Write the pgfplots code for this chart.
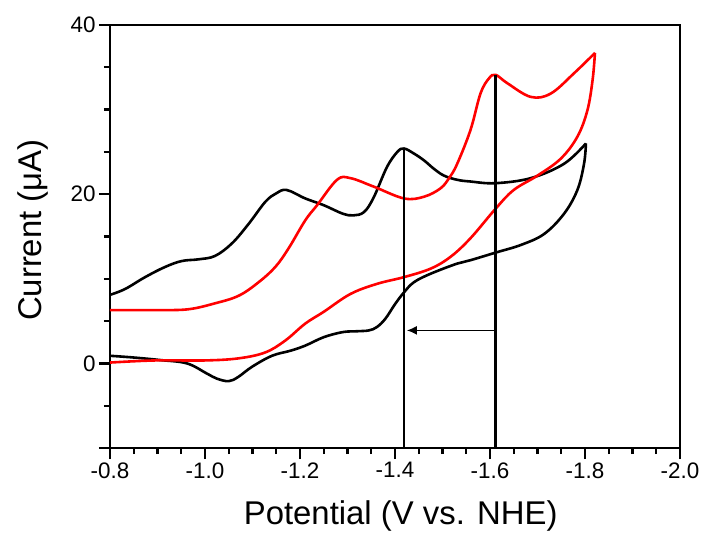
\documentclass[border=0pt]{standalone}
\usepackage{fontspec}
\setmainfont{Liberation Sans}
\usepackage{pgfplots}
\pgfplotsset{compat=1.18}
\usetikzlibrary{arrows.meta}
\begin{document}
\begin{tikzpicture}
\begin{axis}[
  scale only axis, width=570bp, height=423bp,
  x dir=reverse, xmin=-2.0, xmax=-0.8, ymin=-10, ymax=40,
  xtick={-0.8,-1.0,-1.2,-1.4,-1.6,-1.8,-2.0},
  xticklabels={-0.8,-1.0,-1.2,-1.4,-1.6,-1.8,-2.0},
  minor xtick={-0.85,-0.9,-0.95,-1.05,-1.1,-1.15,-1.25,-1.3,-1.35,-1.45,-1.5,-1.55,-1.65,-1.7,-1.75,-1.85,-1.9,-1.95},
  ytick={-10,0,20,40}, yticklabels={,0,20,40},
  minor ytick={-5,5,10,15,25,30,35},
  tick pos=left, tick align=outside,
  major tick length=11bp, minor tick length=6bp,
  every tick/.style={black, line width=2.4bp},
  axis line style={line width=2.8bp},
  ticklabel style={font=\fontsize{22.5}{26}\selectfont},
  xlabel={Potential (V vs. NHE)},
  ylabel={Current (μA)},
  label style={font=\fontsize{33}{38}\selectfont},
  xlabel style={at={(axis description cs:0.51,-0.182)}, anchor=base},
  ylabel style={at={(axis description cs:-0.121,0.515)}, anchor=base},
  clip=false,
]
% black CV forward
\addplot[black, line width=2.6bp, smooth, tension=0.6] coordinates {
(-0.800,8.1) (-0.832,8.8) (-0.874,10.2) (-0.916,11.4) (-0.951,12.1) (-0.986,12.3) (-1.021,12.7) (-1.057,14.2) (-1.092,16.5) (-1.127,19.1) (-1.150,20.1) (-1.172,20.5) (-1.211,19.5) (-1.250,18.7) (-1.290,17.7) (-1.313,17.5) (-1.335,17.9) (-1.355,19.6) (-1.383,23.2) (-1.405,25.0) (-1.419,25.4) (-1.440,24.8) (-1.461,24.0) (-1.482,23.0) (-1.503,22.2) (-1.531,21.7) (-1.559,21.5) (-1.611,21.3) (-1.686,21.9) (-1.756,23.6) (-1.802,26.0)};
% black CV reverse
\addplot[black, line width=2.6bp, smooth, tension=0.6] coordinates {
(-1.802,26.0) (-1.798,23.6) (-1.784,20.5) (-1.756,17.7) (-1.714,15.3) (-1.665,14.0) (-1.612,13.1) (-1.559,12.2) (-1.531,11.8) (-1.475,10.6) (-1.440,9.6) (-1.419,8.4) (-1.400,7.0) (-1.380,5.3) (-1.362,4.3) (-1.345,3.9) (-1.320,3.8) (-1.290,3.7) (-1.250,3.1) (-1.211,2.1) (-1.180,1.5) (-1.141,0.9) (-1.099,-0.4) (-1.070,-1.6) (-1.050,-2.1) (-1.025,-1.8) (-1.004,-1.2) (-0.962,0) (-0.905,0.4) (-0.849,0.7) (-0.800,0.9)};
% red CV forward
\addplot[red, line width=2.6bp, smooth, tension=0.6] coordinates {
(-0.800,6.3) (-0.900,6.3) (-0.965,6.4) (-1.021,7.1) (-1.071,8.0) (-1.113,9.6) (-1.148,11.4) (-1.176,13.6) (-1.211,16.9) (-1.236,18.7) (-1.278,21.7) (-1.306,21.9) (-1.355,20.9) (-1.419,19.5) (-1.461,19.7) (-1.496,20.7) (-1.515,22.0) (-1.531,23.6) (-1.559,27.6) (-1.580,31.9) (-1.598,33.7) (-1.612,34.1) (-1.637,33.1) (-1.686,31.5) (-1.728,31.9) (-1.777,34.3) (-1.821,36.7)};
% red CV reverse
\addplot[red, line width=2.6bp, smooth, tension=0.6] coordinates {
(-1.821,36.7) (-1.816,33.5) (-1.805,29.9) (-1.784,26.8) (-1.749,24.2) (-1.700,22.2) (-1.650,20.5) (-1.612,18.3) (-1.559,14.8) (-1.517,12.6) (-1.475,11.2) (-1.419,10.2) (-1.362,9.4) (-1.306,8.2) (-1.250,6.1) (-1.211,4.7) (-1.169,2.7) (-1.127,1.3) (-1.071,0.6) (-1.000,0.35) (-0.895,0.35) (-0.800,0.1)};
% vertical marker lines
\addplot[black, line width=2.6bp] coordinates {(-1.419,-10) (-1.419,25.4)};
\addplot[black, line width=2.6bp] coordinates {(-1.611,-10) (-1.611,34.1)};
% arrow
\addplot[black, line width=1.5bp, -{Latex[length=10bp,width=9bp]}] coordinates {(-1.609,3.9) (-1.425,3.9)};
\end{axis}
\pgfresetboundingbox
\path (current axis.south west) ++(-110bp,-89bp) rectangle ++(703bp,537bp);
\end{tikzpicture}
\end{document}
